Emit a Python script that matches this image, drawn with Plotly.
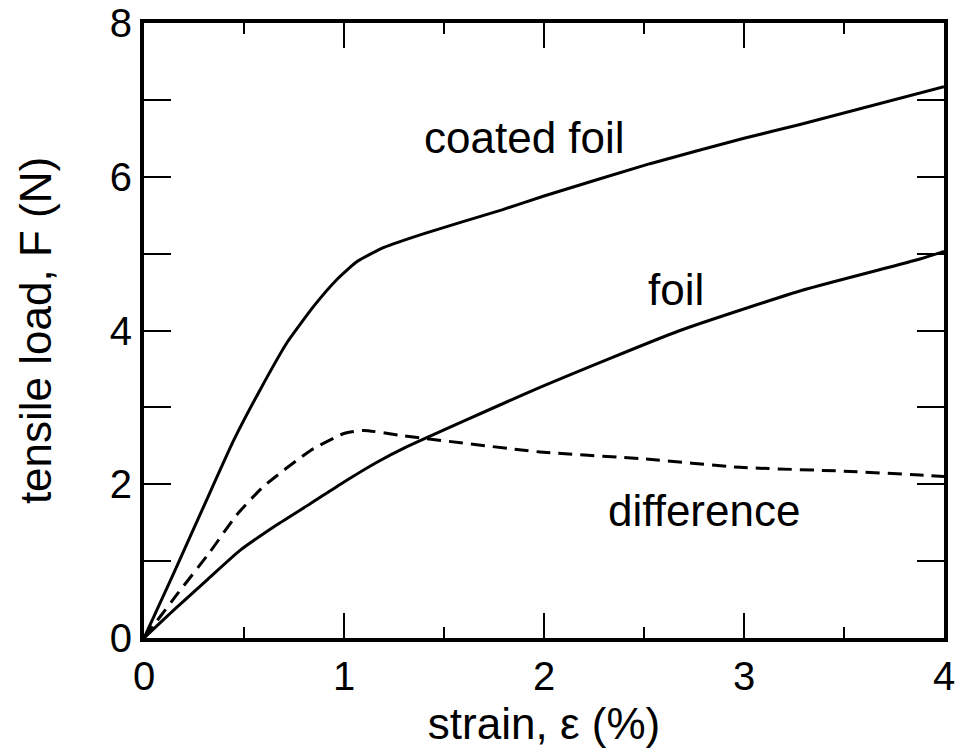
import plotly.graph_objects as go

strain_coated = [0, 0.15, 0.3, 0.45, 0.583, 0.717, 0.85, 0.967, 1.067, 1.2, 1.4, 1.79, 2.0, 2.53, 3.0, 3.28, 4.0]
load_coated = [0, 0.85, 1.72, 2.58, 3.24, 3.85, 4.32, 4.67, 4.90, 5.08, 5.26, 5.57, 5.75, 6.17, 6.50, 6.68, 7.17]

strain_foil = [0, 0.147, 0.313, 0.48, 0.663, 0.833, 1.0, 1.167, 1.3, 1.98, 2.68, 3.3, 3.88, 4.0]
load_foil = [0, 0.36, 0.75, 1.14, 1.47, 1.75, 2.03, 2.29, 2.47, 3.26, 4.0, 4.53, 4.93, 5.03]

strain_diff = [0, 0.163, 0.33, 0.463, 0.597, 0.833, 1.0, 1.1, 1.3, 1.98, 2.5, 2.98, 3.5, 3.88, 4.0]
load_diff = [0, 0.56, 1.12, 1.60, 1.97, 2.44, 2.66, 2.70, 2.63, 2.42, 2.33, 2.22, 2.17, 2.12, 2.1]

x_ticks = [0, 1, 2, 3, 4]
y_ticks = [0, 1, 2, 3, 4, 5, 6, 7, 8]
y_ticktext = ["0", "", "2", "", "4", "", "6", "", "8"]

labels = ["coated foil", "foil", "difference"]
label_x = [1.9, 2.66, 2.80]
label_y = [6.51, 4.53, 1.66]

FONT = "Liberation Sans, Arial, Helvetica, sans-serif"

fig = go.Figure()
fig.add_trace(go.Scatter(x=strain_coated, y=load_coated, mode="lines",
                         line=dict(color="black", width=3, shape="spline", smoothing=0.5)))
fig.add_trace(go.Scatter(x=strain_foil, y=load_foil, mode="lines",
                         line=dict(color="black", width=3, shape="spline", smoothing=0.5)))
fig.add_trace(go.Scatter(x=strain_diff, y=load_diff, mode="lines",
                         line=dict(color="black", width=3, dash="14px,8px",
                                   shape="spline", smoothing=0.5)))

for t, lx, ly in zip(labels, label_x, label_y):
    fig.add_annotation(x=lx, y=ly, text=t, showarrow=False,
                       font=dict(family=FONT, size=44, color="black"))

fig.update_layout(
    width=958, height=756,
    margin=dict(l=144, r=14, t=23, b=118),
    paper_bgcolor="white", plot_bgcolor="white",
    showlegend=False,
    font=dict(family=FONT, color="black"),
)
fig.update_xaxes(
    range=[0, 4], tickvals=x_ticks, ticks="inside", ticklen=25, tickwidth=2,
    tickcolor="black", showline=True, linewidth=4, linecolor="black",
    mirror="allticks", showgrid=False, zeroline=False, automargin=False,
    tickfont=dict(size=40, family=FONT),
    minor=dict(dtick=0.5, ticks="inside", ticklen=11, tickwidth=2, tickcolor="black", showgrid=False),
    title=dict(text="strain, ε (%)", font=dict(size=44, family=FONT), standoff=12),
)
fig.update_yaxes(
    range=[0, 8], tickvals=y_ticks, ticktext=y_ticktext, ticks="inside", ticklen=27,
    tickwidth=2, tickcolor="black", showline=True, linewidth=4, linecolor="black",
    mirror="allticks", showgrid=False, zeroline=False, automargin=False,
    tickfont=dict(size=40, family=FONT),
    title=dict(text="tensile load, F (N)", font=dict(size=44, family=FONT), standoff=45),
)

fig.write_html("out.html")
